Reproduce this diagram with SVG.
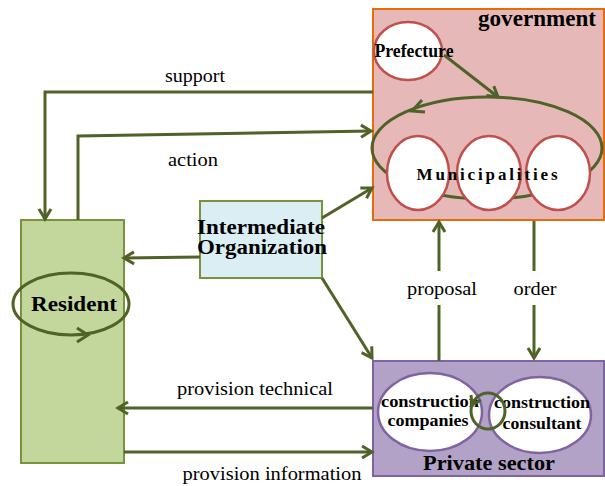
<svg xmlns="http://www.w3.org/2000/svg" width="605" height="486" viewBox="0 0 605 486">
<style>
.lbl{font-family:"Liberation Serif","Times New Roman",serif;font-size:19px;fill:#000;text-anchor:middle}
.bold{font-family:"Liberation Serif","Times New Roman",serif;font-weight:bold;fill:#000;text-anchor:middle}
.conn{fill:none;stroke:#4F6228;stroke-width:3}
.red{fill:#fff;stroke:#C0504D;stroke-width:2.5}
.pur{fill:#fff;stroke:#8064A2;stroke-width:2.5}
</style>
<defs>
<marker id="arr" markerUnits="userSpaceOnUse" markerWidth="16" markerHeight="16" refX="11" refY="7" orient="auto" viewBox="0 0 16 14">
<path d="M1,1 L11,7 L1,13" fill="none" stroke="#4F6228" stroke-width="3"/>
</marker>
</defs>

<g id="government">
<rect x="373" y="9" width="231" height="211" fill="#E6B9B8" stroke="#E46C0A" stroke-width="2"/>
<text class="bold" x="537" y="26" font-size="23" textLength="118" lengthAdjust="spacingAndGlyphs">government</text>
<ellipse cx="487" cy="148" rx="115" ry="51" class="conn"/>
<path d="M422,100 L412,111 L425,112" class="conn"/>
<ellipse cx="408" cy="51" rx="34" ry="29" class="red"/>
<text class="bold" x="414" y="57" font-size="18" textLength="79" lengthAdjust="spacingAndGlyphs">Prefecture</text>
<ellipse cx="418" cy="173" rx="31" ry="37" class="red"/>
<ellipse cx="489" cy="173" rx="32" ry="37" class="red"/>
<ellipse cx="558" cy="173" rx="32" ry="37" class="red"/>
<text class="bold" x="489" y="180" font-size="17" letter-spacing="4" textLength="145" lengthAdjust="spacing">Municipalities</text>
<line x1="444" y1="55" x2="498" y2="97" class="conn" marker-end="url(#arr)"/>
</g>

<g id="resident">
<rect x="21" y="220" width="103" height="243" fill="#C3D69B" stroke="#77933C" stroke-width="2"/>
<ellipse cx="71" cy="304" rx="58" ry="31" class="conn"/>
<path d="M77,328 L88,335 L77,342" class="conn"/>
<text class="bold" x="74" y="311" font-size="22" textLength="86" lengthAdjust="spacingAndGlyphs">Resident</text>
</g>

<g id="intermediate">
<rect x="200" y="201" width="122" height="77" fill="#DBEEF4" stroke="#77933C" stroke-width="2"/>
<text class="bold" x="261" y="234" font-size="20" textLength="128" lengthAdjust="spacingAndGlyphs">Intermediate</text>
<text class="bold" x="262" y="254" font-size="20" textLength="130" lengthAdjust="spacingAndGlyphs">Organization</text>
</g>

<g id="private">
<rect x="373" y="361" width="231" height="115" fill="#B3A2C7" stroke="#8064A2" stroke-width="2"/>
<ellipse cx="430" cy="412" rx="52" ry="39" class="pur"/>
<ellipse cx="540" cy="415" rx="51" ry="38" class="pur"/>
<text class="bold" x="430" y="407" font-size="17" textLength="98" lengthAdjust="spacingAndGlyphs">construction</text>
<text class="bold" x="428" y="426" font-size="17" textLength="81" lengthAdjust="spacingAndGlyphs">companies</text>
<text class="bold" x="542" y="408" font-size="17" textLength="96" lengthAdjust="spacingAndGlyphs">construction</text>
<text class="bold" x="542" y="429" font-size="17" textLength="79" lengthAdjust="spacingAndGlyphs">consultant</text>
<ellipse cx="488" cy="411" rx="17" ry="18" class="conn"/>
<path d="M471,395 L472,405 L481,400" class="conn"/>
<text class="bold" x="489" y="470" font-size="21" textLength="132" lengthAdjust="spacingAndGlyphs">Private sector</text>
</g>

<g id="connectors">
<polyline points="373,92 45,92 45,219" class="conn" marker-end="url(#arr)"/>
<polyline points="78,220 78,136 371,131" class="conn" marker-end="url(#arr)"/>
<line x1="322" y1="218" x2="372" y2="188" class="conn" marker-end="url(#arr)"/>
<line x1="200" y1="257" x2="124" y2="258" class="conn" marker-end="url(#arr)"/>
<line x1="322" y1="278" x2="372" y2="358" class="conn" marker-end="url(#arr)"/>
<line x1="373" y1="408" x2="118" y2="408" class="conn" marker-end="url(#arr)"/>
<line x1="124" y1="452" x2="372" y2="452" class="conn" marker-end="url(#arr)"/>
<line x1="439" y1="361" x2="439" y2="305" class="conn"/>
<line x1="439" y1="271" x2="439" y2="222" class="conn" marker-end="url(#arr)"/>
<line x1="534" y1="221" x2="534" y2="271" class="conn"/>
<line x1="534" y1="305" x2="534" y2="358" class="conn" marker-end="url(#arr)"/>
</g>

<g id="labels">
<text class="lbl" x="195" y="82" textLength="60" lengthAdjust="spacingAndGlyphs">support</text>
<text class="lbl" x="193" y="166" textLength="50" lengthAdjust="spacingAndGlyphs">action</text>
<text class="lbl" x="442" y="295" textLength="70" lengthAdjust="spacingAndGlyphs">proposal</text>
<text class="lbl" x="535" y="295" textLength="43" lengthAdjust="spacingAndGlyphs">order</text>
<text class="lbl" x="255" y="395" textLength="156" lengthAdjust="spacingAndGlyphs">provision technical</text>
<text class="lbl" x="272" y="480" textLength="179" lengthAdjust="spacingAndGlyphs">provision information</text>
</g>
</svg>
